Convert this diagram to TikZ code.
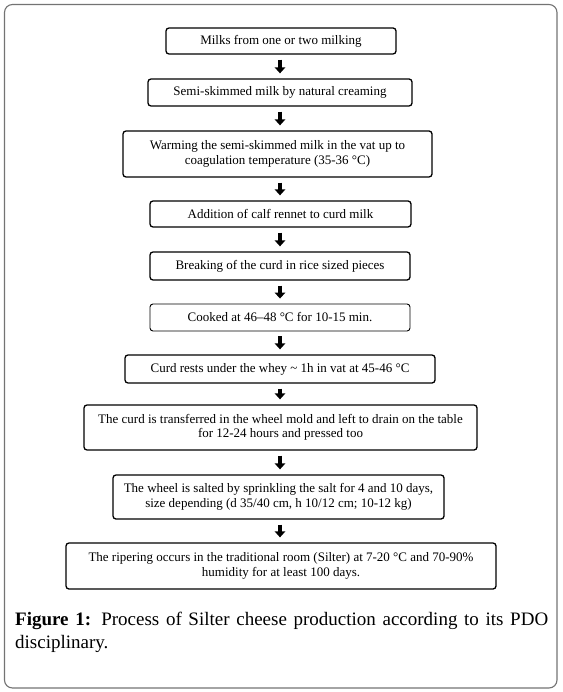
\documentclass[tikz,border=0pt]{standalone}
\usepackage{fontspec}
\setmainfont{Liberation Serif}
\usetikzlibrary{arrows.meta}
\tikzset{
  stepbox/.style={draw=black, line width=1.3pt, rounded corners=3pt, inner sep=0pt,
    align=center, font=\fontsize{13}{14.5}\selectfont},
  flowarrow/.style={line width=3.8pt, -{Triangle[width=10.5pt,length=6pt]}},
  captext/.style={anchor=base west, inner sep=0pt, font=\fontsize{19}{23}\selectfont}
}
\begin{document}
\begin{tikzpicture}[x=1pt,y=-1pt]
\useasboundingbox (0,0) rectangle (562,692);
\draw[draw=black!55, line width=1.1pt, rounded corners=8pt] (4.5,4.5) rectangle (557,688);

\node[stepbox, minimum width=230pt, minimum height=26pt] (b1) at (281,41) {Milks from one or two milking};
\node[stepbox, minimum width=264pt, minimum height=27pt] (b2) at (280,92.5) {Semi-skimmed milk by natural creaming};
\node[stepbox, minimum width=309pt, minimum height=46pt] (b3) at (277.5,154) {Warming the semi-skimmed milk in the vat up to\\coagulation temperature (35-36 °C)};
\node[stepbox, minimum width=261pt, minimum height=26pt] (b4) at (280.5,214) {Addition of calf rennet to curd milk};
\node[stepbox, minimum width=260pt, minimum height=28pt] (b5) at (280,266) {Breaking of the curd in rice sized pieces};
\node[stepbox, line width=0.9pt, minimum width=260pt, minimum height=27pt] (b6) at (280,317.5) {Cooked at 46–48 °C for 10-15 min.};
\node[stepbox, minimum width=310pt, minimum height=28pt] (b7) at (280,369) {Curd rests under the whey \textasciitilde{} 1h in vat at 45-46 °C};
\node[stepbox, minimum width=393pt, minimum height=45pt] (b8) at (280.5,427.5) {The curd is transferred in the wheel mold and left to drain on the table\\for 12-24 hours and pressed too};
\node[stepbox, minimum width=331pt, minimum height=44pt] (b9) at (278.5,497) {The wheel is salted by sprinkling the salt for 4 and 10 days,\\size depending (d 35/40 cm, h 10/12 cm; 10-12 kg)};
\node[stepbox, minimum width=430pt, minimum height=46pt] (b10) at (281,566) {The ripering occurs in the traditional room (Silter) at 7-20 °C and 70-90\%\\humidity for at least 100 days.};

\foreach \a/\b in {b1/b2,b2/b3,b3/b4,b4/b5,b5/b6,b6/b7,b7/b8,b8/b9,b9/b10}
  \draw[flowarrow] ([yshift=-5pt]\a.south -| 280,0) -- ([yshift=5pt]\b.north -| 280,0);

\node[captext] (cap1) at (15,625) {\makebox[533pt][s]{\textbf{Figure 1:} Process of Silter cheese production according to its PDO}};
\node[captext] (cap2) at (15,648) {disciplinary.};
\end{tikzpicture}
\end{document}
